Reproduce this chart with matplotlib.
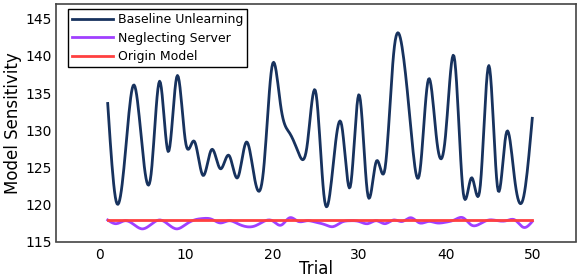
import numpy as np
import matplotlib
matplotlib.use("Agg")
import matplotlib.pyplot as plt

trials = list(range(1, 51))
baseline = [133.6, 120.3, 126.5, 136.1, 127.5, 124.0, 136.6, 127.1, 137.3, 128.3,
            128.5, 123.9, 127.4, 124.8, 126.6, 123.6, 128.4, 123.2, 124.8, 138.8,
            133.0, 129.6, 127.0, 127.8, 135.2, 120.8, 125.1, 130.7, 122.4, 134.8,
            121.4, 125.8, 124.8, 140.3, 141.0, 130.1, 124.2, 136.8, 128.4, 129.4,
            139.8, 121.9, 123.6, 122.5, 138.7, 122.2, 129.6, 123.1, 121.0, 131.6]
neglecting = [117.9, 117.4, 117.8, 117.3, 116.7, 117.3, 117.9, 117.3, 116.7, 117.3,
              117.9, 118.1, 118.0, 117.5, 117.8, 117.4, 117.0, 117.1, 117.7, 117.8,
              117.2, 118.2, 117.7, 117.8, 117.6, 117.3, 117.0, 117.6, 117.8, 117.7,
              117.4, 117.8, 117.4, 117.9, 117.7, 118.2, 117.5, 117.7, 117.5, 117.6,
              117.9, 118.2, 117.2, 117.4, 117.9, 117.8, 117.8, 117.9, 116.9, 117.7]
origin = [117.95] * 50


def smooth(x, y, n=500):
    """Natural cubic spline through the data points (rendering only)."""
    x = np.asarray(x, float)
    y = np.asarray(y, float)
    m = len(x)
    h = np.diff(x)
    A = np.zeros((m, m))
    r = np.zeros(m)
    A[0, 0] = A[-1, -1] = 1
    for i in range(1, m - 1):
        A[i, i - 1] = h[i - 1]
        A[i, i] = 2 * (h[i - 1] + h[i])
        A[i, i + 1] = h[i]
        r[i] = 3 * ((y[i + 1] - y[i]) / h[i] - (y[i] - y[i - 1]) / h[i - 1])
    c = np.linalg.solve(A, r)
    b = (y[1:] - y[:-1]) / h - h * (2 * c[:-1] + c[1:]) / 3
    d = (c[1:] - c[:-1]) / (3 * h)
    xs = np.linspace(x[0], x[-1], n)
    idx = np.clip(np.searchsorted(x, xs) - 1, 0, m - 2)
    dx = xs - x[idx]
    ys = y[idx] + b[idx] * dx + c[idx] * dx ** 2 + d[idx] * dx ** 3
    return xs, ys


fig = plt.figure(figsize=(5.81, 2.80), dpi=100)
ax = fig.add_axes([0.0959, 0.1375, 0.8948, 0.8482])

xs, ys = smooth(trials, baseline)
ax.plot(xs, ys, color="#17325e", lw=2, label="Baseline Unlearning")
xs, ys = smooth(trials, neglecting)
ax.plot(xs, ys, color="#a040ff", lw=2, label="Neglecting Server")
ax.plot(trials, origin, color="#ff4040", lw=2, label="Origin Model")

ax.set_xlim(-5, 55)
ax.set_ylim(115, 147)
ax.set_xticks([0, 10, 20, 30, 40, 50])
ax.set_yticks([115, 120, 125, 130, 135, 140, 145])
ax.tick_params(length=0, labelsize=10)
ax.tick_params(axis="x", pad=5)
ax.tick_params(axis="y", pad=3)
for s in ax.spines.values():
    s.set_color("#444444")
    s.set_linewidth(1.2)
ax.set_xlabel("Trial", fontsize=12, labelpad=-2)
ax.set_ylabel("Model Sensitivity", fontsize=12, labelpad=2)

leg = ax.legend(loc="upper left", bbox_to_anchor=(0.0233, 0.978), fontsize=9.0,
                frameon=True, fancybox=False, edgecolor="black", framealpha=1,
                handlelength=3.3, borderpad=0.3, labelspacing=0.45,
                borderaxespad=0.0, handletextpad=0.4)
leg.get_frame().set_linewidth(1.0)

fig.savefig("out.png", dpi=100)
